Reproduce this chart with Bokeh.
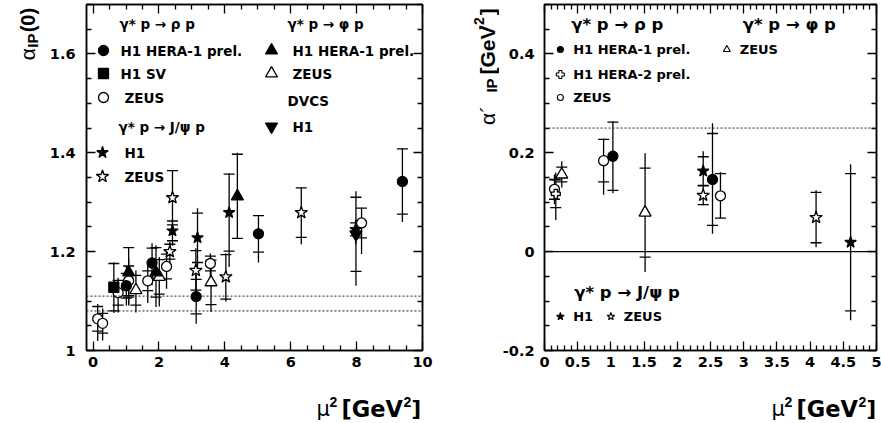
import math
from bokeh.plotting import figure
from bokeh.models import (ColumnDataSource, Span, LinearAxis, FixedTicker, Range1d,
                          CustomLabelingPolicy)
from bokeh.layouts import row, column
from bokeh.embed import file_html
from bokeh.resources import INLINE
from bokeh.core.properties import value

# ================= DATA =================
# ---- Left panel: alpha_P(0) vs mu^2 ----
l_rho_h1_x = [1.01, 1.79, 3.13, 5.02, 9.39]
l_rho_h1_y = [1.131, 1.177, 1.109, 1.236, 1.342]
l_rho_h1_stat = [0.025, 0.030, 0.035, 0.037, 0.066]
l_rho_h1_up = [0.040, 0.040, 0.045, 0.037, 0.066]
l_rho_h1_dn = [0.040, 0.045, 0.055, 0.058, 0.082]

l_rho_sv_x = [0.63]
l_rho_sv_y = [1.128]
l_rho_sv_stat = [0.048]
l_rho_sv_up = [0.050]
l_rho_sv_dn = [0.052]

l_rho_zeus_x = [0.14, 0.29, 0.76, 1.08, 1.66, 2.23, 3.56, 8.15]
l_rho_zeus_y = [1.064, 1.055, 1.117, 1.141, 1.141, 1.170, 1.176, 1.258]
l_rho_zeus_stat = [0.025, 0.020, 0.025, 0.030, 0.020, 0.025, 0.015, 0.030]
l_rho_zeus_up = [0.030, 0.030, 0.030, 0.045, 0.030, 0.035, 0.020, 0.031]
l_rho_zeus_dn = [0.045, 0.035, 0.040, 0.050, 0.045, 0.045, 0.035, 0.063]

l_phi_h1_x = [1.08, 1.91, 4.38]
l_phi_h1_y = [1.158, 1.158, 1.312]
l_phi_h1_stat = [0.050, 0.050, 0.085]
l_phi_h1_up = [0.050, 0.055, 0.088]
l_phi_h1_dn = [0.065, 0.070, 0.085]

l_phi_zeus_x = [1.30, 2.01, 3.58]
l_phi_zeus_y = [1.122, 1.149, 1.138]
l_phi_zeus_stat = [0.030, 0.035, 0.045]
l_phi_zeus_up = [0.040, 0.040, 0.050]
l_phi_zeus_dn = [0.045, 0.060, 0.060]

l_dvcs_x = [7.98]
l_dvcs_y = [1.235]
l_dvcs_stat = [0.075]
l_dvcs_up = [0.087]
l_dvcs_dn = [0.104]

l_jpsi_h1_x = [2.41, 3.17, 4.13, 7.97]
l_jpsi_h1_y = [1.242, 1.228, 1.279, 1.245]
l_jpsi_h1_stat = [0.020, 0.050, 0.078, 0.013]
l_jpsi_h1_up = [0.025, 0.060, 0.080, 0.020]
l_jpsi_h1_dn = [0.030, 0.060, 0.110, 0.030]

l_jpsi_zeus_x = [2.33, 2.41, 3.12, 4.03, 6.32]
l_jpsi_zeus_y = [1.200, 1.309, 1.162, 1.149, 1.279]
l_jpsi_zeus_stat = [0.015, 0.055, 0.040, 0.045, 0.050]
l_jpsi_zeus_up = [0.020, 0.055, 0.045, 0.048, 0.050]
l_jpsi_zeus_dn = [0.025, 0.060, 0.050, 0.050, 0.064]

l_ref_lines = [1.08, 1.11]

# ---- Right panel: alpha'_P vs mu^2 ----
r_rho_h1_x = [1.03, 2.53]
r_rho_h1_y = [0.193, 0.146]
r_rho_h1_stat = [0.069, 0.093]
r_rho_h1_up = [0.071, 0.114]
r_rho_h1_dn = [0.075, 0.110]

r_rho_h12_x = [0.17]
r_rho_h12_y = [0.117]
r_rho_h12_stat = [0.028]
r_rho_h12_up = [0.043]
r_rho_h12_dn = [0.053]

r_rho_zeus_x = [0.15, 0.89, 2.65]
r_rho_zeus_y = [0.126, 0.184, 0.113]
r_rho_zeus_stat = [0.020, 0.043, 0.045]
r_rho_zeus_up = [0.030, 0.045, 0.048]
r_rho_zeus_dn = [0.030, 0.069, 0.045]

r_phi_zeus_x = [0.26, 1.515]
r_phi_zeus_y = [0.156, 0.079]
r_phi_zeus_stat = [0.015, 0.090]
r_phi_zeus_up = [0.027, 0.120]
r_phi_zeus_dn = [0.026, 0.120]

r_jpsi_h1_x = [2.39, 4.61]
r_jpsi_h1_y = [0.163, 0.019]
r_jpsi_h1_stat = [0.029, 0.139]
r_jpsi_h1_up = [0.040, 0.158]
r_jpsi_h1_dn = [0.030, 0.158]

r_jpsi_zeus_x = [2.39, 4.09]
r_jpsi_zeus_y = [0.114, 0.069]
r_jpsi_zeus_stat = [0.019, 0.051]
r_jpsi_zeus_up = [0.020, 0.055]
r_jpsi_zeus_dn = [0.020, 0.060]

r_ref_dashed = [0.25]
r_ref_solid = [0.0]

# ---- tick labels ----
left_x_ticks = [0, 2, 4, 6, 8, 10]
left_x_labels = ["0", "2", "4", "6", "8", "10"]
left_y_ticks = [1.0, 1.2, 1.4, 1.6]
left_y_labels = ["1", "1.2", "1.4", "1.6"]
right_x_ticks = [0, 0.5, 1, 1.5, 2, 2.5, 3, 3.5, 4, 4.5, 5]
right_x_labels = ["0", "0.5", "1", "1.5", "2", "2.5", "3", "3.5", "4", "4.5", "5"]
right_y_ticks = [-0.2, 0.0, 0.2, 0.4]
right_y_labels = ["-0.2", "0", "0.2", "0.4"]

# ================= STYLE / LAYOUT =================
W, H = 881, 423
PH = 385                 # height of the plot row; an x-title strip fills the rest
TOP = 4
FB = 350                 # frame bottom (canvas px)
FONT_H = "DejaVu Sans"
FONT_V = "Liberation Sans"
LW = 1.3

NO_LABELS = CustomLabelingPolicy(code="for (const i of indices) indices.unset(i); return indices")


def minor(lo, hi, step, majors):
    n = int(round((hi - lo) / step))
    out = []
    for i in range(n + 1):
        v = round(lo + i * step, 6)
        if all(abs(v - m) > 1e-9 for m in majors):
            out.append(v)
    return out


def make_fig(width, bl, br, xr, yr, xt, xl, yt, yl, xminor, yminor, ystand):
    p = figure(width=width, height=PH, x_range=Range1d(*xr), y_range=Range1d(*yr),
               output_backend="svg", toolbar_location=None,
               min_border_left=bl, min_border_right=br,
               min_border_top=TOP, min_border_bottom=PH - FB,
               x_axis_location=None, y_axis_location=None)
    p.title.visible = False
    p.xgrid.visible = False
    p.ygrid.visible = False
    p.outline_line_color = "black"
    p.outline_line_width = 1.5
    p.background_fill_color = "white"
    p.border_fill_color = "white"
    xtk = FixedTicker(ticks=xt, minor_ticks=xminor)
    ytk = FixedTicker(ticks=yt, minor_ticks=yminor)
    for side, tk, labels in (("below", xtk, xl), ("left", ytk, yl),
                             ("above", xtk, None), ("right", ytk, None)):
        ax = LinearAxis(ticker=tk)
        ax.axis_line_color = "black"
        ax.axis_line_width = 1.5
        ax.major_tick_in = 9
        ax.major_tick_out = 0
        ax.minor_tick_in = 5
        ax.minor_tick_out = 0
        ax.major_tick_line_width = 1.3
        ax.minor_tick_line_width = 1.3
        ax.major_tick_line_color = "black"
        ax.minor_tick_line_color = "black"
        if labels is None:
            ax.major_label_policy = NO_LABELS
            ax.major_label_text_font_size = "1px"
            ax.major_label_standoff = 0
        else:
            ax.major_label_overrides = dict(zip(tk.ticks, labels))
            ax.major_label_text_font = FONT_H
            ax.major_label_text_font_style = "bold"
            ax.major_label_text_font_size = "14.5px"
            ax.major_label_text_color = "black"
            ax.major_label_standoff = 6 if side == "below" else ystand
        p.add_layout(ax, side)
    return p


def strip(w, h, x0, y0):
    """A blank figure whose frame is the whole canvas; data units = page pixels."""
    s = figure(width=w, height=h, x_range=Range1d(x0, x0 + w), y_range=Range1d(y0 + h, y0),
               output_backend="svg", toolbar_location=None,
               min_border_left=0, min_border_right=0, min_border_top=0, min_border_bottom=0,
               x_axis_location=None, y_axis_location=None)
    s.title.visible = False
    s.grid.visible = False
    s.outline_line_color = None
    s.background_fill_color = "white"
    s.border_fill_color = "white"
    return s


def add_series(bars, marks, x, y, stat, up, dn, marker, fill, size):
    src = ColumnDataSource(dict(
        x=x, y=y,
        lo=[a - b for a, b in zip(y, dn)], hi=[a + b for a, b in zip(y, up)],
        slo=[a - b for a, b in zip(y, stat)], shi=[a + b for a, b in zip(y, stat)]))
    bars.append(src)
    marks.append((src, marker, fill, size))


def render(p, bars, marks):
    for src in bars:
        p.segment(x0="x", y0="lo", x1="x", y1="hi", source=src,
                  line_color="black", line_width=LW)
        p.scatter(x="x", y="slo", source=src, marker="dash", size=11,
                  line_color="black", line_width=LW)
        p.scatter(x="x", y="shi", source=src, marker="dash", size=11,
                  line_color="black", line_width=LW)
    for src, marker, fill, size in marks:
        p.scatter(x="x", y="y", source=src, marker=marker, size=size,
                  fill_color=fill, line_color="black", line_width=LW)


def put_text(s, t, cx, cy, size, bold, angle=0.0, font=FONT_H):
    s.text(x=[cx], y=[cy], text=[t], angle=angle, text_font=value(font),
           text_font_size=size, text_font_style="bold" if bold else "normal",
           text_color="black", text_align="left", text_baseline="alphabetic")


# ---------------- left figure (canvas x 40..440) ----------------
YL_W = 40
LXR, LYR = (-0.2, 10.0), (1.0, 1.7)
LFL, LFR = 86, 422
pL = make_fig(440 - YL_W, LFL - YL_W, 440 - LFR, LXR, LYR, left_x_ticks, left_x_labels,
              left_y_ticks, left_y_labels,
              minor(0, 10, 0.5, left_x_ticks), minor(1.0, 1.7, 0.05, left_y_ticks), 11)


def lmap(px, py):
    return (LXR[0] + (px - LFL) / (LFR - LFL) * (LXR[1] - LXR[0]),
            LYR[0] + (FB - py) / (FB - TOP) * (LYR[1] - LYR[0]))


for v in l_ref_lines:
    pL.add_layout(Span(location=v, dimension="width", line_color="#222222",
                       line_width=1, line_dash="2 2"))

bars, marks = [], []
add_series(bars, marks, l_rho_zeus_x, l_rho_zeus_y, l_rho_zeus_stat, l_rho_zeus_up, l_rho_zeus_dn, "circle", "white", 10)
add_series(bars, marks, l_phi_zeus_x, l_phi_zeus_y, l_phi_zeus_stat, l_phi_zeus_up, l_phi_zeus_dn, "triangle", "white", 12)
add_series(bars, marks, l_jpsi_zeus_x, l_jpsi_zeus_y, l_jpsi_zeus_stat, l_jpsi_zeus_up, l_jpsi_zeus_dn, "star", "white", 13)
add_series(bars, marks, l_rho_sv_x, l_rho_sv_y, l_rho_sv_stat, l_rho_sv_up, l_rho_sv_dn, "square", "black", 10)
add_series(bars, marks, l_rho_h1_x, l_rho_h1_y, l_rho_h1_stat, l_rho_h1_up, l_rho_h1_dn, "circle", "black", 10)
add_series(bars, marks, l_phi_h1_x, l_phi_h1_y, l_phi_h1_stat, l_phi_h1_up, l_phi_h1_dn, "triangle", "black", 12)
add_series(bars, marks, l_dvcs_x, l_dvcs_y, l_dvcs_stat, l_dvcs_up, l_dvcs_dn, "inverted_triangle", "black", 12)
add_series(bars, marks, l_jpsi_h1_x, l_jpsi_h1_y, l_jpsi_h1_stat, l_jpsi_h1_up, l_jpsi_h1_dn, "star", "black", 12)
render(pL, bars, marks)

# legend (canvas pixel layout)
l_headers = [("γ* p → ρ p", 119, 23), ("γ* p → J/ψ p", 118, 126),
             ("γ* p → φ p", 287, 23), ("DVCS", 287, 100)]
l_items = [("H1 HERA-1 prel.", "circle", "black", 10, 103, 50, 120),
           ("H1 SV", "square", "black", 10, 103, 73, 120),
           ("ZEUS", "circle", "white", 10, 103, 97, 124),
           ("H1", "star", "black", 12, 102, 152, 124),
           ("ZEUS", "star", "white", 13, 102, 176, 124),
           ("H1 HERA-1 prel.", "triangle", "black", 12, 271, 50, 292),
           ("ZEUS", "triangle", "white", 12, 271, 73, 292),
           ("H1", "inverted_triangle", "black", 12, 271, 126, 292)]

hx, hy = zip(*[lmap(a, b) for _, a, b in l_headers])
pL.text(x=list(hx), y=list(hy), text=[h[0] for h in l_headers], text_font=value(FONT_H),
        text_font_style="bold", text_font_size="13.5px", text_baseline="middle",
        text_align="left", text_color="black")
for lab, mk, fill, sz, mx, my, tx in l_items:
    X, Y = lmap(mx, my)
    pL.scatter(x=[X], y=[Y], marker=mk, size=sz, fill_color=fill,
               line_color="black", line_width=LW)
    X2, _ = lmap(tx, my)
    pL.text(x=[X2], y=[Y], text=[lab], text_font=value(FONT_H), text_font_style="bold",
            text_font_size="13.5px", text_baseline="middle", text_align="left",
            text_color="black")

# ---------------- right figure (canvas x 499..881) ----------------
RX0 = 499
RXR, RYR = (0.0, 5.0), (-0.2, 0.5)
RFL, RFR = 541, 876
pR = make_fig(W - RX0, RFL - RX0, W - RFR, RXR, RYR, right_x_ticks, right_x_labels,
              right_y_ticks, right_y_labels,
              minor(0, 5, 0.1, right_x_ticks), minor(-0.2, 0.5, 0.05, right_y_ticks), 10)


def rmap(px, py):
    return (RXR[0] + (px - RFL) / (RFR - RFL) * (RXR[1] - RXR[0]),
            RYR[0] + (FB - py) / (FB - TOP) * (RYR[1] - RYR[0]))


for v in r_ref_dashed:
    pR.add_layout(Span(location=v, dimension="width", line_color="#222222",
                       line_width=1, line_dash="2 2"))
for v in r_ref_solid:
    pR.add_layout(Span(location=v, dimension="width", line_color="black", line_width=1.3))

bars, marks = [], []
add_series(bars, marks, r_rho_zeus_x, r_rho_zeus_y, r_rho_zeus_stat, r_rho_zeus_up, r_rho_zeus_dn, "circle", "white", 10)
add_series(bars, marks, r_phi_zeus_x, r_phi_zeus_y, r_phi_zeus_stat, r_phi_zeus_up, r_phi_zeus_dn, "triangle", "white", 12)
add_series(bars, marks, r_jpsi_zeus_x, r_jpsi_zeus_y, r_jpsi_zeus_stat, r_jpsi_zeus_up, r_jpsi_zeus_dn, "star", "white", 13)
add_series(bars, marks, r_rho_h12_x, r_rho_h12_y, r_rho_h12_stat, r_rho_h12_up, r_rho_h12_dn, "plus", "white", 9)
add_series(bars, marks, r_rho_h1_x, r_rho_h1_y, r_rho_h1_stat, r_rho_h1_up, r_rho_h1_dn, "circle", "black", 10)
add_series(bars, marks, r_jpsi_h1_x, r_jpsi_h1_y, r_jpsi_h1_stat, r_jpsi_h1_up, r_jpsi_h1_dn, "star", "black", 12)
render(pR, bars, marks)

r_headers = [("γ* p → ρ p", 568, 24), ("γ* p → φ p", 741, 24), ("γ* p → J/ψ p", 571, 292)]
r_items = [("H1 HERA-1 prel.", "circle", "black", 6, 557, 49, 570),
           ("H1 HERA-2 prel.", "plus", "white", 8, 557, 74, 570),
           ("ZEUS", "circle", "white", 6, 557, 97, 570),
           ("ZEUS", "triangle", "white", 7, 725, 49, 738),
           ("H1", "star", "black", 8, 557, 316, 570),
           ("ZEUS", "star", "white", 8, 608, 316, 621)]

hx, hy = zip(*[rmap(a, b) for _, a, b in r_headers])
pR.text(x=list(hx), y=list(hy), text=[h[0] for h in r_headers], text_font=value(FONT_H),
        text_font_style="bold", text_font_size="16.5px", text_baseline="middle",
        text_align="left", text_color="black")
for lab, mk, fill, sz, mx, my, tx in r_items:
    X, Y = rmap(mx, my)
    pR.scatter(x=[X], y=[Y], marker=mk, size=sz, fill_color=fill,
               line_color="black", line_width=1.1)
    X2, _ = rmap(tx, my)
    pR.text(x=[X2], y=[Y], text=[lab], text_font=value(FONT_H), text_font_style="bold",
            text_font_size="13px", text_baseline="middle", text_align="left",
            text_color="black")

# ---------------- axis-title strips ----------------
A = math.pi / 2
sYL = strip(YL_W, PH, 0, 0)
for t, cx, cy, sz, b in [("α", 27, 62, "21px", False), ("IP", 32, 48, "15px", True),
                         ("(0)", 27, 31, "20px", True)]:
    put_text(sYL, t, cx, cy, sz, b, angle=A, font=FONT_V)

sYR = strip(RX0 - 440, PH, 440, 0)
for t, cx, cy, sz, b in [("α´", 487, 134, "21px", False), ("IP", 491, 98, "15px", True),
                         ("[GeV", 487, 78, "21px", True), ("-2", 478, 28, "14px", True),
                         ("]", 487, 12, "21px", True)]:
    put_text(sYR, t, cx, cy, sz, b, angle=A, font=FONT_V)

sX = strip(W, H - PH, 0, PH)
xlab = [("μ", 316, 408, "21px", False, FONT_H), ("2", 329, 401, "14px", True, FONT_V),
        ("[GeV", 341, 408, "22.5px", True, FONT_H), ("2", 403, 401, "14px", True, FONT_V),
        ("]", 411, 408, "21px", True, FONT_H)]
for dx in (0, RFL - LFL):
    for t, cx, cy, sz, b, f in xlab:
        put_text(sX, t, cx + dx, cy, sz, b, font=f)

layout = column(row(sYL, pL, sYR, pR), sX)
open("out.html", "w").write(file_html(layout, INLINE))
